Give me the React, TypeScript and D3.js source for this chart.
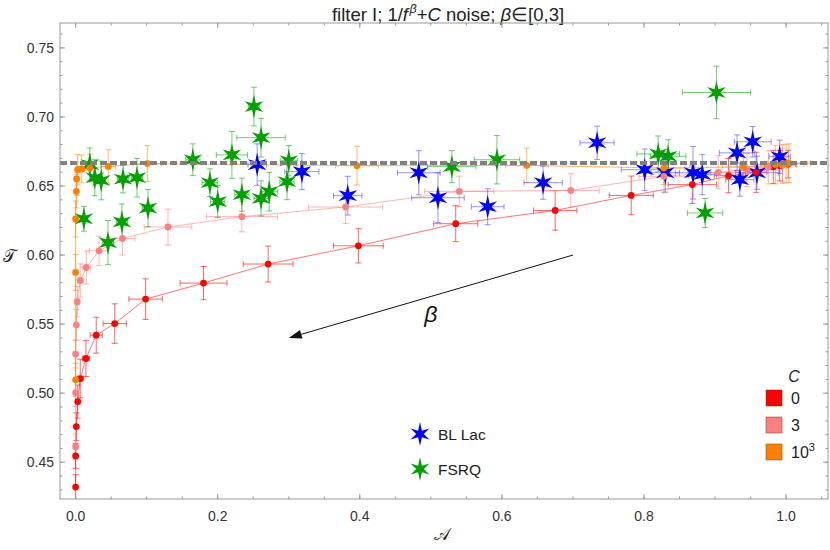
import React from 'react';
import * as d3 from 'd3';

// [A, T, dA, dT] per point
const seriesC0 = [
  [0.0, 0.432, 0.001, 0.009], [0.0, 0.4546, 0.001, 0.009], [0.001, 0.4758, 0.002, 0.01],
  [0.003, 0.4939, 0.003, 0.012], [0.0065, 0.5106, 0.004, 0.014], [0.0145, 0.5251, 0.005, 0.013],
  [0.029, 0.542, 0.0085, 0.013], [0.055, 0.5504, 0.0164, 0.0143], [0.0985, 0.5681, 0.0235, 0.0147],
  [0.18, 0.5797, 0.033, 0.012], [0.271, 0.5935, 0.035, 0.013], [0.398, 0.6067, 0.035, 0.0124],
  [0.535, 0.6227, 0.031, 0.013], [0.675, 0.6323, 0.0305, 0.0143], [0.782, 0.6432, 0.031, 0.014],
  [0.868, 0.651, 0.034, 0.0136], [0.919, 0.6575, 0.02, 0.0124], [0.958, 0.6599, 0.015, 0.0145],
  [0.982, 0.6638, 0.012, 0.012], [0.991, 0.6647, 0.01, 0.011], [1.003, 0.6659, 0.01, 0.01],
];

const seriesC3 = [
  [0.0, 0.4613, 0.001, 0.009], [0.0, 0.5004, 0.001, 0.01], [0.0, 0.5283, 0.001, 0.01],
  [0.001, 0.5495, 0.002, 0.011], [0.0023, 0.5662, 0.003, 0.011], [0.0065, 0.5816, 0.004, 0.012],
  [0.015, 0.591, 0.006, 0.012], [0.033, 0.6031, 0.014, 0.0106], [0.066, 0.612, 0.0176, 0.012],
  [0.13, 0.6203, 0.0335, 0.013], [0.234, 0.6278, 0.05, 0.011], [0.38, 0.6348, 0.052, 0.012],
  [0.54, 0.6461, 0.0486, 0.011], [0.697, 0.6468, 0.04, 0.012], [0.828, 0.657, 0.035, 0.012],
  [0.9045, 0.6599, 0.03, 0.012], [0.945, 0.6615, 0.025, 0.012], [0.975, 0.6635, 0.02, 0.012],
  [0.995, 0.665, 0.02, 0.012],
];

const seriesC1000 = [
  [0.0, 0.5097, 0.001, 0.012], [0.0, 0.5874, 0.001, 0.013], [0.0, 0.6261, 0.001, 0.013],
  [0.001, 0.6461, 0.002, 0.012], [0.0014, 0.6551, 0.003, 0.012], [0.0028, 0.6618, 0.003, 0.011],
  [0.0085, 0.6623, 0.004, 0.01], [0.02, 0.663, 0.006, 0.01], [0.046, 0.6642, 0.01, 0.012],
  [0.101, 0.6662, 0.02, 0.013], [0.396, 0.6647, 0.03, 0.014], [0.635, 0.6649, 0.03, 0.0125],
  [0.828, 0.663, 0.03, 0.012], [0.94, 0.6638, 0.03, 0.012], [0.985, 0.6655, 0.03, 0.014],
  [0.995, 0.666, 0.03, 0.014], [1.0, 0.6662, 0.03, 0.014], [1.004, 0.6665, 0.03, 0.014],
];

const blLac = [
  [0.2555, 0.6655, 0.013, 0.015], [0.3185, 0.6604, 0.024, 0.013], [0.383, 0.643, 0.02, 0.014],
  [0.483, 0.6596, 0.03, 0.016], [0.51, 0.6415, 0.037, 0.018], [0.58, 0.635, 0.023, 0.013],
  [0.658, 0.6524, 0.027, 0.012], [0.734, 0.6813, 0.024, 0.012], [0.801, 0.6618, 0.033, 0.015],
  [0.83, 0.6596, 0.02, 0.014], [0.869, 0.6596, 0.025, 0.019], [0.882, 0.6582, 0.02, 0.0145],
  [0.931, 0.674, 0.025, 0.013], [0.953, 0.682, 0.026, 0.011], [0.935, 0.6546, 0.02, 0.012],
  [0.959, 0.6596, 0.03, 0.012], [0.991, 0.6712, 0.015, 0.012],
];

const fsrq = [
  [0.0117, 0.6263, 0.005, 0.009], [0.02, 0.6655, 0.006, 0.012], [0.027, 0.656, 0.006, 0.013],
  [0.036, 0.654, 0.006, 0.014], [0.0667, 0.655, 0.008, 0.01], [0.0864, 0.656, 0.008, 0.014],
  [0.1019, 0.634, 0.008, 0.0135], [0.0652, 0.624, 0.008, 0.013], [0.0455, 0.609, 0.008, 0.016],
  [0.165, 0.669, 0.01, 0.0115], [0.22, 0.6725, 0.022, 0.017], [0.189, 0.6524, 0.011, 0.01],
  [0.2, 0.6387, 0.01, 0.0115], [0.234, 0.6437, 0.01, 0.012], [0.251, 0.7075, 0.008, 0.014],
  [0.261, 0.685, 0.034, 0.014], [0.3, 0.6683, 0.012, 0.011], [0.2975, 0.6531, 0.01, 0.013],
  [0.2725, 0.6459, 0.012, 0.014], [0.261, 0.641, 0.01, 0.0127], [0.5296, 0.664, 0.034, 0.0116],
  [0.593, 0.669, 0.032, 0.0175], [0.902, 0.7177, 0.048, 0.019], [0.82, 0.6732, 0.03, 0.013],
  [0.834, 0.6715, 0.025, 0.012], [0.886, 0.6305, 0.025, 0.0105],
];

const xTicks = [0, 0.2, 0.4, 0.6, 0.8, 1.0];
const yTicks = [0.45, 0.5, 0.55, 0.6, 0.65, 0.7, 0.75];
const referenceT = 2 / 3;
const arrowFrom = [0.7, 0.6];
const arrowTo = [0.3, 0.54];
const betaLabelAt = [0.5, 0.557];
const legendC = ['0', '3', '10'];

const W = 830;
const H = 550;
const frame = { left: 60, right: 828, top: 23, bottom: 499 };

const x = d3.scaleLinear().domain([-0.022, 1.059]).range([frame.left, frame.right]);
const y = d3.scaleLinear().domain([0.4234, 0.768]).range([frame.bottom, frame.top]);

const font = '"Liberation Sans", Arial, Helvetica, sans-serif';

// six-armed star, vertical arms a bit longer
const starPath = (cx: number, cy: number) => {
  const pts: [number, number][] = [];
  for (let i = 0; i < 12; i++) {
    const ang = Math.PI / 2 - (i * Math.PI) / 6;
    let r = 3.8;
    if (i % 2 === 0) r = i === 0 || i === 6 ? 12 : 10.8;
    pts.push([cx + r * Math.cos(ang), cy - r * Math.sin(ang)]);
  }
  return 'M' + pts.map((p) => p[0].toFixed(2) + ',' + p[1].toFixed(2)).join('L') + 'Z';
};

const ErrorBars = ({ data, color, cap = 3 }: { data: number[][]; color: string; cap?: number }) => (
  <g stroke={color} strokeWidth={1} fill="none">
    {data.map((d, i) => {
      const cx = x(d[0]);
      const cy = y(d[1]);
      const x0 = x(d[0] - d[2]);
      const x1 = x(d[0] + d[2]);
      const y0 = y(d[1] - d[3]);
      const y1 = y(d[1] + d[3]);
      return (
        <g key={i}>
          <line x1={cx} x2={cx} y1={y0} y2={y1} />
          <line x1={cx - cap} x2={cx + cap} y1={y0} y2={y0} />
          <line x1={cx - cap} x2={cx + cap} y1={y1} y2={y1} />
          {x1 - x0 > 4 && (
            <>
              <line x1={x0} x2={x1} y1={cy} y2={cy} />
              <line x1={x0} x2={x0} y1={cy - cap} y2={cy + cap} />
              <line x1={x1} x2={x1} y1={cy - cap} y2={cy + cap} />
            </>
          )}
        </g>
      );
    })}
  </g>
);

const line = d3
  .line<number[]>()
  .x((d) => x(d[0]))
  .y((d) => y(d[1]));

const curves = [
  { data: seriesC0, color: '#ff0000', bar: 'rgba(255,0,0,0.6)', ln: 'rgba(255,60,60,0.7)' },
  { data: seriesC3, color: '#ff8080', bar: 'rgba(255,128,128,0.6)', ln: 'rgba(255,150,150,0.7)' },
  { data: seriesC1000, color: '#ff8000', bar: 'rgba(255,140,20,0.6)', ln: 'rgba(255,150,40,0.7)' },
];

const stars = [
  { data: fsrq, color: '#00a000', bar: 'rgba(0,160,0,0.55)' },
  { data: blLac, color: '#0000ff', bar: 'rgba(60,60,255,0.55)' },
];

export default function App() {
  const xMinor = d3.range(0, 1.06, 0.05);
  const yMinor = d3.range(0.43, 0.765, 0.01);

  const ang = Math.atan2(y(arrowTo[1]) - y(arrowFrom[1]), x(arrowTo[0]) - x(arrowFrom[0]));
  const ax = x(arrowTo[0]);
  const ay = y(arrowTo[1]);
  const headLen = 13;
  const headW = 4.5;
  const bx = ax - headLen * Math.cos(ang);
  const by = ay - headLen * Math.sin(ang);
  const head = `M${ax},${ay}L${bx - headW * Math.sin(ang)},${by + headW * Math.cos(ang)}L${bx + headW * Math.sin(ang)},${by - headW * Math.cos(ang)}Z`;

  return (
    <svg width={W} height={H} style={{ position: 'absolute', left: 0, top: 0, background: '#fff' }} fontFamily={font}>
      <rect width={W} height={H} fill="#fff" />
      <defs>
        <clipPath id="plotClip">
          <rect x={frame.left} y={frame.top} width={frame.right - frame.left} height={frame.bottom - frame.top} />
        </clipPath>
      </defs>

      {/* title */}
      <text x={448} y={20.5} textAnchor="middle" fontSize={18.5} fill="#222">
        filter I; 1/<tspan fontStyle="italic">f</tspan>
        <tspan fontStyle="italic" fontSize={12.5} dx={1.5} dy={-8}>β</tspan>
        <tspan dy={8}>+</tspan>
        <tspan fontStyle="italic">C</tspan> noise; <tspan fontStyle="italic">β</tspan>∈[0,3]
      </text>

      <g clipPath="url(#plotClip)">
        {curves.map((c, i) => (
          <g key={'c' + i}>
            <path d={line(c.data) ?? ''} fill="none" stroke={c.ln} strokeWidth={1} />
            <ErrorBars data={c.data} color={c.bar} />
          </g>
        ))}
        {stars.map((s, i) => (
          <g key={'s' + i}>
            <ErrorBars data={s.data} color={s.bar} />
            {s.data.map((d, j) => (
              <path key={j} d={starPath(x(d[0]), y(d[1]))} fill={s.color} />
            ))}
          </g>
        ))}
        {curves.map((c, i) => (
          <g key={'p' + i}>
            {c.data.map((d, j) => (
              <circle key={j} cx={x(d[0])} cy={y(d[1])} r={3.4} fill={c.color} />
            ))}
          </g>
        ))}
        <line
          x1={frame.left}
          x2={frame.right}
          y1={y(referenceT)}
          y2={y(referenceT)}
          stroke="#808080"
          strokeWidth={4}
          strokeDasharray="7,3"
        />
      </g>

      {/* arrow */}
      <line x1={x(arrowFrom[0])} y1={y(arrowFrom[1])} x2={bx} y2={by} stroke="#111" strokeWidth={1} />
      <path d={head} fill="#111" />
      <text x={x(betaLabelAt[0])} y={y(betaLabelAt[1]) + 8} textAnchor="middle" fontSize={23} fontStyle="italic" fill="#111">
        β
      </text>

      {/* frame and ticks */}
      <rect
        x={frame.left}
        y={frame.top}
        width={frame.right - frame.left}
        height={frame.bottom - frame.top}
        fill="none"
        stroke="#999"
        strokeWidth={1}
      />
      <g stroke="#999" strokeWidth={1}>
        {xMinor.map((t, i) => (
          <g key={'xm' + i}>
            <line x1={x(t)} x2={x(t)} y1={frame.bottom} y2={frame.bottom - 2.5} />
            <line x1={x(t)} x2={x(t)} y1={frame.top} y2={frame.top + 2.5} />
          </g>
        ))}
        {xTicks.map((t, i) => (
          <g key={'xM' + i}>
            <line x1={x(t)} x2={x(t)} y1={frame.bottom} y2={frame.bottom - 5} />
            <line x1={x(t)} x2={x(t)} y1={frame.top} y2={frame.top + 5} />
          </g>
        ))}
        {yMinor.map((t, i) => (
          <g key={'ym' + i}>
            <line x1={frame.left} x2={frame.left + 2.5} y1={y(t)} y2={y(t)} />
            <line x1={frame.right} x2={frame.right - 2.5} y1={y(t)} y2={y(t)} />
          </g>
        ))}
        {yTicks.map((t, i) => (
          <g key={'yM' + i}>
            <line x1={frame.left} x2={frame.left + 5} y1={y(t)} y2={y(t)} />
            <line x1={frame.right} x2={frame.right - 5} y1={y(t)} y2={y(t)} />
          </g>
        ))}
      </g>
      <g fontSize={14} fill="#333">
        {xTicks.map((t, i) => (
          <text key={'xl' + i} x={x(t)} y={frame.bottom + 22} textAnchor="middle">
            {d3.format('.1f')(t)}
          </text>
        ))}
        {yTicks.map((t, i) => (
          <text key={'yl' + i} x={frame.left - 6} y={y(t) + 5} textAnchor="end">
            {d3.format('.2f')(t)}
          </text>
        ))}
      </g>

      {/* axis labels */}
      <text x={9} y={262} fontSize={17} textAnchor="middle" fill="#222">𝒯</text>
      <text x={442} y={540} fontSize={17} textAnchor="middle" fill="#222">𝒜</text>

      {/* source legend */}
      <path d={starPath(420, 434)} fill="#0000ff" />
      <text x={438} y={440} fontSize={15.5} fill="#222">BL Lac</text>
      <path d={starPath(420, 469)} fill="#00a000" />
      <text x={438} y={475} fontSize={15.5} fill="#222">FSRQ</text>

      {/* C legend */}
      <text x={794} y={382} fontSize={16} fontStyle="italic" textAnchor="middle" fill="#222">C</text>
      {curves.map((c, i) => (
        <g key={'lg' + i}>
          <rect
            x={766}
            y={390 + i * 27}
            width={16}
            height={16}
            fill={c.color}
            stroke="rgba(120,40,0,0.45)"
            strokeWidth={1}
          />
          <text x={791} y={404 + i * 27} fontSize={16} fill="#222">
            {legendC[i]}
            {i === 2 && (
              <tspan fontSize={11} dy={-7}>
                3
              </tspan>
            )}
          </text>
        </g>
      ))}
    </svg>
  );
}
